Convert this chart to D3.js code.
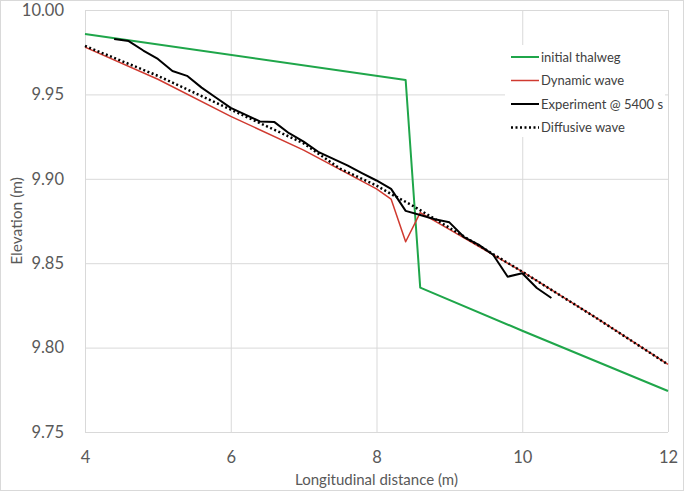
<!DOCTYPE html>
<html>
<head>
<meta charset="utf-8">
<script src="https://cdn.jsdelivr.net/npm/d3@7"></script>
<style>
  body { margin: 0; background: #fff; }
  svg { display: block; }
</style>
</head>
<body>
<div id="chart"></div>
<script>
// Data
const thalwegX = [4, 8.4, 8.6, 10, 12];
const thalwegY = [9.9858, 9.9585, 9.8355, 9.810, 9.7743];

const dynamicX = [4, 5, 6, 7, 8, 8.2, 8.4, 8.6, 9, 10, 11, 12];
const dynamicY = [9.978, 9.959, 9.937, 9.917, 9.894, 9.888, 9.8627, 9.880, 9.870, 9.845, 9.818, 9.790];

const experimentX = [4.4, 4.6, 4.8, 5.0, 5.2, 5.4, 5.6, 5.8, 6.0, 6.2, 6.4, 6.6, 6.8, 7.0, 7.2, 7.4, 7.6, 7.8, 8.0, 8.2, 8.4, 8.6, 8.8, 9.0, 9.2, 9.4, 9.6, 9.8, 10.0, 10.2, 10.4];
const experimentY = [9.9828, 9.9816, 9.976, 9.971, 9.9639, 9.961, 9.954, 9.948, 9.942, 9.938, 9.934, 9.9336, 9.927, 9.922, 9.916, 9.912, 9.908, 9.9034, 9.899, 9.894, 9.881, 9.8786, 9.876, 9.8742, 9.8655, 9.861, 9.855, 9.842, 9.844, 9.8353, 9.8294];

const diffusiveX = [4, 5, 6, 7, 7.5, 8, 8.2, 8.5, 9, 10, 11, 12];
const diffusiveY = [9.9787, 9.961, 9.941, 9.921, 9.906, 9.896, 9.891, 9.884, 9.871, 9.845, 9.818, 9.790];

const xTicks = [4, 6, 8, 10, 12];
const yTicks = [9.75, 9.80, 9.85, 9.90, 9.95, 10.00];

const seriesNames = ['initial thalweg', 'Dynamic wave', 'Experiment @ 5400 s', 'Diffusive wave'];

const svgWidth = 685;
const svgHeight = 492;
const margin = { top: 10, right: 17, bottom: 60, left: 85 };
const width = svgWidth - margin.left - margin.right;
const height = svgHeight - margin.top - margin.bottom;
const font = 'Lato, Calibri, sans-serif';

const root = d3.select('#chart')
  .append('svg')
  .attr('width', svgWidth)
  .attr('height', svgHeight);

// chart border
root.append('rect')
  .attr('x', 0.5).attr('y', 0.5)
  .attr('width', svgWidth - 2).attr('height', svgHeight - 2)
  .attr('fill', '#fff')
  .attr('stroke', '#d9d9d9');

const svg = root.append('g')
  .attr('transform', `translate(${margin.left},${margin.top})`);

const xScale = d3.scaleLinear().domain([4, 12]).range([0, width]);
const yScale = d3.scaleLinear().domain([9.75, 10.0]).range([height, 0]);

// gridlines
svg.append('g')
  .call(d3.axisLeft(yScale).tickValues(yTicks).tickSize(-width).tickFormat(''))
  .call(g => g.select('.domain').remove())
  .selectAll('line').attr('stroke', '#d9d9d9');

svg.append('g')
  .attr('transform', `translate(0,${height})`)
  .call(d3.axisBottom(xScale).tickValues(xTicks).tickSize(-height).tickFormat(''))
  .call(g => g.select('.domain').remove())
  .selectAll('line').attr('stroke', '#d9d9d9');

// tick labels
svg.append('g')
  .call(d3.axisLeft(yScale).tickValues(yTicks).tickSize(0).tickPadding(21).tickFormat(d3.format('.2f')))
  .call(g => g.select('.domain').remove())
  .selectAll('text')
  .style('font-family', font)
  .style('font-size', '16.5px')
  .attr('fill', '#595959');

svg.append('g')
  .attr('transform', `translate(0,${height})`)
  .call(d3.axisBottom(xScale).tickValues(xTicks).tickSize(0).tickPadding(19).tickFormat(d3.format('d')))
  .call(g => g.select('.domain').remove())
  .selectAll('text')
  .style('font-family', font)
  .style('font-size', '16.5px')
  .attr('fill', '#595959');

// axis titles
svg.append('text')
  .attr('x', width / 2)
  .attr('y', height + 53)
  .attr('text-anchor', 'middle')
  .style('font-family', font)
  .style('font-size', '15px')
  .attr('fill', '#595959')
  .text('Longitudinal distance (m)');

svg.append('text')
  .attr('transform', `translate(${-margin.left + 22},${height / 2}) rotate(-90)`)
  .attr('text-anchor', 'middle')
  .style('font-family', font)
  .style('font-size', '15.5px')
  .attr('fill', '#595959')
  .text('Elevation (m)');

const line = d3.line()
  .x(d => xScale(d[0]))
  .y(d => yScale(d[1]));

const series = [
  { xs: thalwegX, ys: thalwegY, color: '#1fa64a', w: 2, dash: null },
  { xs: dynamicX, ys: dynamicY, color: '#d03a30', w: 1.5, dash: null },
  { xs: experimentX, ys: experimentY, color: '#000', w: 2, dash: null },
  { xs: diffusiveX, ys: diffusiveY, color: '#000', w: 2.5, dash: '2,2.5' }
];

series.forEach(s => {
  svg.append('path')
    .datum(s.xs.map((x, i) => [x, s.ys[i]]))
    .attr('d', line)
    .attr('fill', 'none')
    .attr('stroke', s.color)
    .attr('stroke-width', s.w)
    .attr('stroke-dasharray', s.dash)
    .attr('stroke-linejoin', 'round');
});

// legend
const legend = root.append('g').attr('transform', 'translate(505,45)');
legend.append('rect')
  .attr('width', 160).attr('height', 92)
  .attr('fill', '#fff');

series.forEach((s, i) => {
  const y = 12 + i * 23.5;
  legend.append('line')
    .attr('x1', 6).attr('x2', 34)
    .attr('y1', y).attr('y2', y)
    .attr('stroke', s.color)
    .attr('stroke-width', s.w)
    .attr('stroke-dasharray', s.dash);
  legend.append('text')
    .attr('x', 36)
    .attr('y', y)
    .attr('dy', '0.35em')
    .style('font-family', font)
    .style('font-size', '13px')
    .attr('fill', '#404040')
    .text(seriesNames[i]);
});
</script>
</body>
</html>
